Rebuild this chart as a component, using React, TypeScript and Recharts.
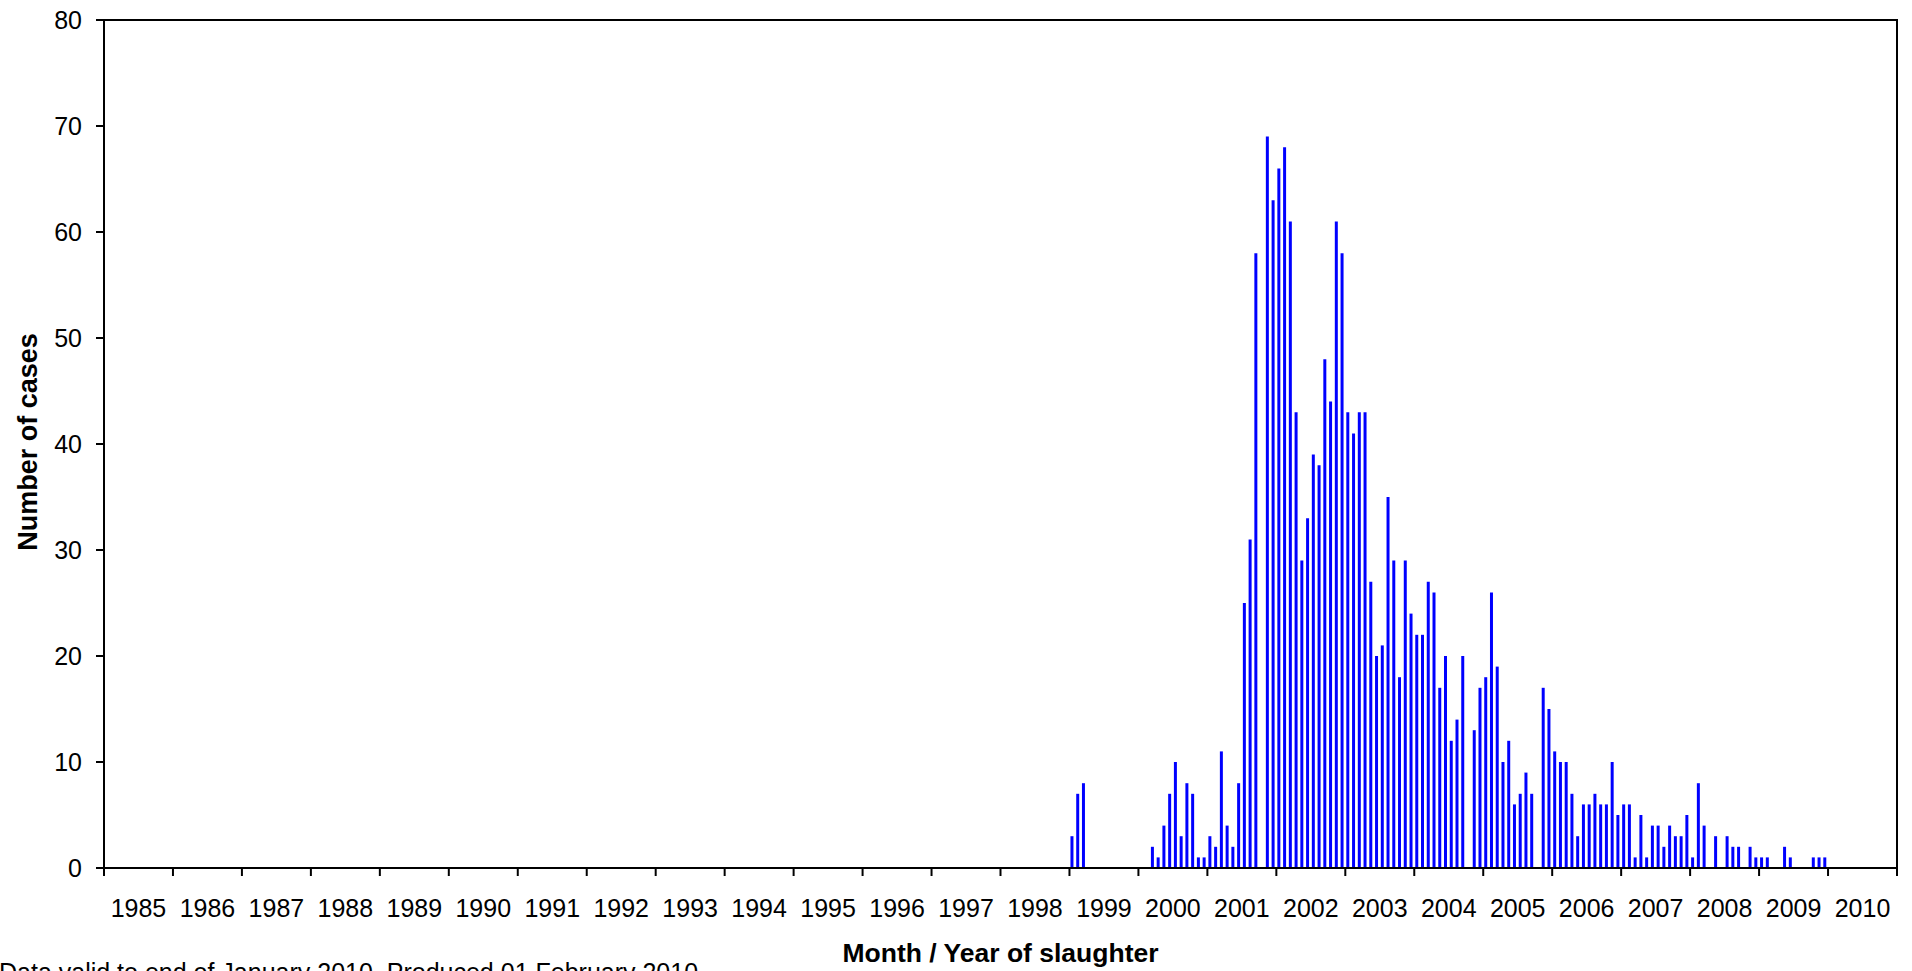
import { BarChart, Bar, XAxis, YAxis, ReferenceArea } from "recharts";

// Year categories on the axis (each year = 12 monthly slots)
const years = [
  "1985", "1986", "1987", "1988", "1989", "1990", "1991", "1992", "1993",
  "1994", "1995", "1996", "1997", "1998", "1999", "2000", "2001", "2002",
  "2003", "2004", "2005", "2006", "2007", "2008", "2009", "2010",
];

// Monthly cases, Jan..Dec (years before 1999 have no cases)
const cases1999 = [3, 7, 8, 0, 0, 0, 0, 0, 0, 0, 0, 0];
const cases2000 = [0, 0, 2, 1, 4, 7, 10, 3, 8, 7, 1, 1];
const cases2001 = [3, 2, 11, 4, 2, 8, 25, 31, 58, 0, 69, 63];
const cases2002 = [66, 68, 61, 43, 29, 33, 39, 38, 48, 44, 61, 58];
const cases2003 = [43, 41, 43, 43, 27, 20, 21, 35, 29, 18, 29, 24];
const cases2004 = [22, 22, 27, 26, 17, 20, 12, 14, 20, 0, 13, 17];
const cases2005 = [18, 26, 19, 10, 12, 6, 7, 9, 7, 0, 17, 15];
const cases2006 = [11, 10, 10, 7, 3, 6, 6, 7, 6, 6, 10, 5];
const cases2007 = [6, 6, 1, 5, 1, 4, 4, 2, 4, 3, 3, 5];
const cases2008 = [1, 8, 4, 0, 3, 0, 3, 2, 2, 0, 2, 1];
const cases2009 = [1, 1, 0, 0, 2, 1, 0, 0, 0, 1, 1, 1];
const cases2010 = [0]; // data valid to end of January 2010

const casesByYear: Record<string, number[]> = {
  "1999": cases1999,
  "2000": cases2000,
  "2001": cases2001,
  "2002": cases2002,
  "2003": cases2003,
  "2004": cases2004,
  "2005": cases2005,
  "2006": cases2006,
  "2007": cases2007,
  "2008": cases2008,
  "2009": cases2009,
  "2010": cases2010,
};

const yTicks = [0, 10, 20, 30, 40, 50, 60, 70, 80];

const W = 1912;
const H = 971;
const PLOT_LEFT = 104;
const PLOT_RIGHT = 1897;
const PLOT_TOP = 20;
const PLOT_BOTTOM = 868;
const X_AXIS_H = 60;
const SLOTS = years.length * 12;
const yearPx = (PLOT_RIGHT - PLOT_LEFT) / years.length;
const FONT = "'Liberation Sans', Arial, Helvetica, sans-serif";

// one row per month, x at the middle of the month slot
const data: { x: number; cases: number }[] = [];
years.forEach((yr, yi) => {
  const months = casesByYear[yr];
  if (!months) {
    for (let m = 0; m < 12; m++) data.push({ x: yi * 12 + m + 0.5, cases: 0 });
    return;
  }
  months.forEach((v, m) => data.push({ x: yi * 12 + m + 0.5, cases: v }));
});

const yearTicks = years.map((_, i) => i * 12).concat([SLOTS]);

// tick line at each year boundary, label centred in the year
const YearTick = (props: any) => {
  const { x, y, payload } = props;
  const idx = payload.value / 12;
  return (
    <g>
      <line x1={x} y1={y} x2={x} y2={y + 8} stroke="#000" strokeWidth={2} />
      {idx < years.length && (
        <text
          x={x + yearPx / 2}
          y={y + 49}
          textAnchor="middle"
          fill="#000"
          fontSize={25}
          fontFamily={FONT}
        >
          {years[idx]}
        </text>
      )}
    </g>
  );
};

export default function App() {
  return (
    <div style={{ position: "absolute", left: 0, top: 0, width: W, height: H, background: "#fff" }}>
      <BarChart
        width={W}
        height={H}
        data={data}
        margin={{ top: PLOT_TOP, right: W - PLOT_RIGHT, bottom: H - PLOT_BOTTOM - X_AXIS_H, left: 0 }}
      >
        <XAxis
          type="number"
          dataKey="x"
          domain={[0, SLOTS]}
          ticks={yearTicks}
          interval={0}
          tickLine={false}
          tickSize={0}
          tickMargin={0}
          height={X_AXIS_H}
          stroke="#000"
          strokeWidth={2}
          tick={<YearTick />}
          allowDataOverflow
        />
        <YAxis
          type="number"
          domain={[0, 80]}
          ticks={yTicks}
          interval={0}
          width={PLOT_LEFT}
          tickSize={8}
          tickMargin={14}
          stroke="#000"
          strokeWidth={2}
          tick={{ fill: "#000", fontSize: 25, fontFamily: FONT }}
        />
        <ReferenceArea
          x1={0}
          x2={SLOTS}
          y1={0}
          y2={80}
          fill="none"
          stroke="#000"
          strokeWidth={2}
          ifOverflow="visible"
        />
        <Bar dataKey="cases" fill="#0000ff" barSize={3} isAnimationActive={false} />
      </BarChart>
      <svg
        width={W}
        height={H}
        style={{ position: "absolute", left: 0, top: 0, pointerEvents: "none" }}
      >
        <text
          transform="translate(37, 442) rotate(-90)"
          textAnchor="middle"
          fontSize={27}
          fontWeight="bold"
          fontFamily={FONT}
          fill="#000"
        >
          Number of cases
        </text>
        <text
          x={(PLOT_LEFT + PLOT_RIGHT) / 2}
          y={962}
          textAnchor="middle"
          fontSize={26.5}
          fontWeight="bold"
          fontFamily={FONT}
          fill="#000"
        >
          Month / Year of slaughter
        </text>
        <text x={-1} y={981} fontSize={25} fontFamily={FONT} fill="#000">
          Data valid to end of January 2010. Produced 01 February 2010
        </text>
      </svg>
    </div>
  );
}
